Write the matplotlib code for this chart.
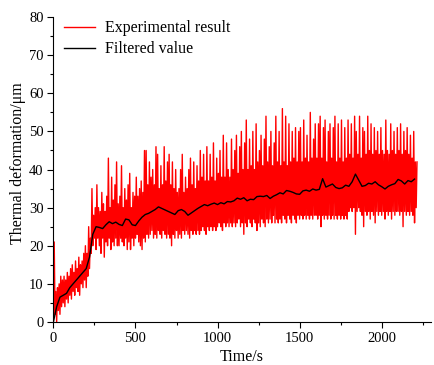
# thermal deformation vs time, experimental and filtered
import numpy as np
import matplotlib.pyplot as plt
from matplotlib.ticker import MultipleLocator

plt.rcParams['font.family'] = ['Liberation Serif', 'DejaVu Serif']

exp_step = 5
exp_values = [
    0, 21, 2, 8, 0, 9, 3, 10, 2, 12, 4, 11, 5, 12, 4, 11, 6, 13, 5, 12,
    7, 14, 6, 15, 8, 13, 7, 16, 9, 14, 8, 17, 7, 15, 10, 16, 9, 18, 11, 20,
    9, 18, 12, 25, 14, 22, 18, 35, 20, 28, 22, 30, 19, 36, 22, 30, 20, 29, 18, 34,
    22, 31, 17, 29, 21, 33, 20, 43, 22, 30, 19, 38, 21, 32, 20, 36, 22, 42, 20, 31,
    20, 33, 22, 41, 21, 30, 20, 35, 22, 32, 19, 36, 21, 39, 19, 30, 22, 34, 20, 33,
    22, 38, 23, 33, 21, 35, 20, 37, 19, 34, 22, 45, 21, 45, 23, 36, 22, 42, 23, 38,
    24, 40, 22, 36, 23, 46, 22, 44, 24, 35, 23, 41, 22, 36, 24, 46, 23, 37, 22, 42,
    23, 44, 22, 36, 20, 42, 23, 35, 22, 40, 24, 34, 22, 35, 23, 40, 22, 44, 24, 34,
    23, 38, 24, 35, 23, 40, 22, 43, 24, 36, 23, 42, 24, 35, 23, 41, 24, 37, 23, 45,
    24, 38, 25, 44, 24, 37, 23, 46, 25, 37, 24, 44, 25, 38, 24, 47, 25, 37, 24, 43,
    25, 39, 26, 45, 25, 38, 24, 49, 26, 38, 25, 47, 26, 40, 25, 38, 26, 48, 25, 40,
    26, 45, 25, 49, 26, 39, 27, 46, 25, 50, 26, 40, 23, 47, 26, 53, 25, 40, 27, 48,
    26, 41, 25, 50, 27, 40, 26, 52, 24, 42, 26, 45, 25, 49, 27, 41, 26, 48, 25, 54,
    27, 42, 26, 46, 27, 50, 26, 41, 28, 47, 26, 54, 27, 42, 26, 50, 27, 41, 26, 56,
    28, 42, 27, 54, 26, 41, 28, 52, 27, 42, 26, 50, 28, 43, 27, 51, 26, 42, 28, 50,
    27, 51, 28, 42, 27, 53, 28, 43, 27, 49, 28, 42, 27, 55, 28, 43, 27, 48, 28, 52,
    28, 43, 27, 52, 28, 54, 25, 43, 28, 51, 27, 53, 28, 42, 27, 50, 28, 52, 27, 43,
    28, 51, 27, 54, 28, 42, 27, 52, 28, 43, 27, 53, 28, 42, 27, 51, 28, 43, 27, 53,
    29, 44, 30, 52, 29, 43, 30, 54, 23, 50, 29, 44, 30, 54, 29, 43, 28, 51, 25, 50,
    29, 44, 28, 54, 29, 45, 27, 52, 29, 44, 28, 51, 26, 45, 29, 50, 28, 44, 29, 51,
    28, 45, 29, 44, 27, 53, 29, 45, 28, 44, 29, 52, 27, 45, 29, 50, 28, 44, 29, 51,
    29, 45, 28, 52, 29, 44, 25, 50, 29, 45, 28, 51, 29, 44, 28, 49, 29, 43, 28, 50,
    26, 42, 30, 42,
]

# filtered value, one point every 20 s
filt_step = 20
filt_values = [
    0, 4, 6.5, 7, 7.5, 9, 10, 11, 12, 13,
    14, 17, 23, 25, 24.8, 24.5, 25.5, 26.3, 25.8, 26.2,
    25.6, 25.3, 27, 26.8, 25.5, 25.3, 26.5, 27.5, 28.2, 28.5,
    29, 29.5, 30.2, 29.8, 29.4, 29, 28.6, 28.2, 29.2, 29.5,
    29, 28, 28.6, 29.2, 29.8, 30.3, 30.8, 30.5, 30.9, 31.2,
    30.8, 31.3, 31, 31.6, 31.5, 31.8, 32.5, 32.2, 32.6, 31.8,
    32.2, 32.1, 32.9, 33, 32.9, 33.2, 32.4, 33, 33.4, 33.9,
    33.6, 34.5, 34.3, 34, 33.6, 33.5, 34.4, 34.6, 34.3, 34.9,
    34.6, 34.8, 37.6, 35.4, 35.8, 36.2, 35.3, 35, 35.2, 35.9,
    35.6, 36.8, 38.8, 37.2, 35.6, 35.8, 36.4, 36.2, 36.8, 36,
    35.5, 34.9, 35.6, 36, 36.3, 37.4, 37, 36.2, 37.1, 36.8,
    37.5,
]

exp_t = np.arange(len(exp_values)) * exp_step
filt_t = np.arange(len(filt_values)) * filt_step

fig = plt.figure(figsize=(4.34, 3.65), dpi=100)
ax = fig.add_axes([0.123, 0.118, 0.870, 0.835])

ax.plot(exp_t, exp_values, color='#ff0000', lw=1.0, label='Experimental result')
ax.plot(filt_t, filt_values, color='black', lw=1.0, label='Filtered value')

ax.set_xlim(0, 2300)
ax.set_ylim(0, 80)
ax.xaxis.set_major_locator(MultipleLocator(500))
ax.xaxis.set_minor_locator(MultipleLocator(250))
ax.yaxis.set_major_locator(MultipleLocator(10))
ax.yaxis.set_minor_locator(MultipleLocator(5))
ax.tick_params(which='major', direction='out', length=4, width=0.8, labelsize=10.5, pad=3)
ax.tick_params(which='minor', direction='out', length=2.5, width=0.8)

for s in ['top', 'right']:
    ax.spines[s].set_visible(False)

ax.set_xlabel('Time/s', fontsize=11.5, labelpad=3)
ax.set_ylabel('Thermal deformation/\u03bcm', fontsize=11.5)
ax.yaxis.set_label_coords(-0.072, 0.52)

ax.legend(loc='upper left', frameon=False, fontsize=11.5, handlelength=2.0,
          handletextpad=0.6, labelspacing=0.3, borderaxespad=0.0,
          bbox_to_anchor=(0.01, 1.01))

fig.savefig('out.png', dpi=100)
